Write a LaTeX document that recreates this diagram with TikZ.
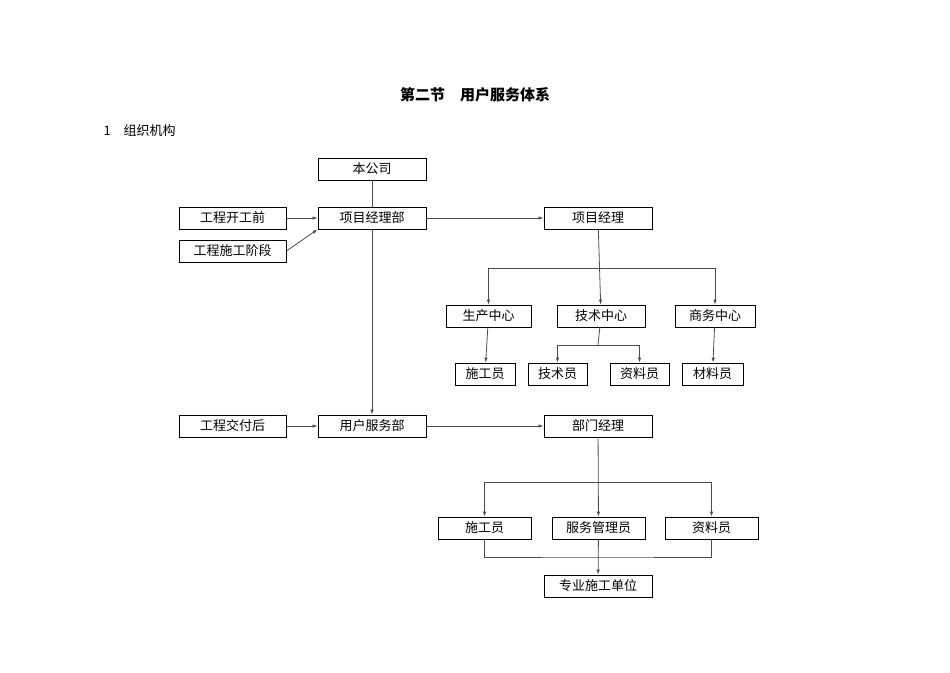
\documentclass[tikz,border=0pt]{standalone}
\usepackage{fontspec}
\setmainfont{Noto Sans CJK SC}
\usetikzlibrary{arrows.meta}
\begin{document}
\begin{tikzpicture}[x=1pt,y=-1pt,
  bx/.style={draw,thick,inner sep=0pt,font=\fontsize{13}{13}\selectfont},
  ln/.style={draw=black!70,thick},
  ar/.style={ln,-{Latex[length=5pt,width=3.5pt]}}]
\useasboundingbox (0,0) rectangle (950,672);
\newcommand{\bx}[6]{\node[bx,minimum width=#4-#2,minimum height=#5-#3] (#1) at ({(#2+#4)/2},{(#3+#5)/2}) {#6};}
\node[font=\fontsize{15}{15}\selectfont\bfseries] (title) at (475,95) {第二节\quad 用户服务体系};
\node[anchor=west,font=\fontsize{13}{13}\selectfont] (sub) at (100,131) {1\quad 组织机构};
\bx{gs}{318}{158}{426}{180}{本公司}
\bx{kg}{179}{207}{286}{229}{工程开工前}
\bx{xb}{318}{207}{426}{229}{项目经理部}
\bx{sg}{179}{240}{286}{262}{工程施工阶段}
\bx{xj}{544}{207}{652}{229}{项目经理}
\bx{sc}{446}{305}{531}{327}{生产中心}
\bx{js}{557}{305}{645}{327}{技术中心}
\bx{sw}{675}{305}{755}{327}{商务中心}
\bx{sy}{455}{363}{515}{385}{施工员}
\bx{jy}{528}{363}{587}{385}{技术员}
\bx{zy}{610}{363}{669}{385}{资料员}
\bx{cy}{682}{363}{743}{385}{材料员}
\bx{jf}{179}{415}{286}{437}{工程交付后}
\bx{yf}{318}{415}{426}{437}{用户服务部}
\bx{bj}{544}{415}{652}{437}{部门经理}
\bx{sy2}{438}{517}{531}{539}{施工员}
\bx{fw}{552}{517}{645}{539}{服务管理员}
\bx{zy2}{665}{517}{758}{539}{资料员}
\bx{zd}{544}{575}{652}{597}{专业施工单位}
\coordinate (b1) at (598,268);
\coordinate (b2) at (598,345);
\coordinate (b3) at (598,482);
\coordinate (b4) at (598,557);
\draw[ln] (gs) -- (xb);
\draw[ar] (kg) -- (xb);
\draw[ar] (sg.east) -- (xb.south west);
\draw[ar] (xb) -- (xj);
\draw[ar] (xb) -- (yf);
\draw[ar] (jf) -- (yf);
\draw[ar] (yf) -- (bj);
\draw[ar] (xj) -- (js);
\draw[ar] (b1) -| (sc);
\draw[ar] (b1) -| (sw);
\draw[ar] (sc) -- (sy);
\draw[ar] (sw) -- (cy);
\draw[ln] (js) -- (b2);
\draw[ar] (b2) -| (jy);
\draw[ar] (b2) -| (zy);
\draw[ar] (bj) -- (fw);
\draw[ar] (b3) -| (sy2);
\draw[ar] (b3) -| (zy2);
\draw[ln] (sy2) |- (b4) -| (zy2);
\draw[ar] (fw) -- (zd);
\end{tikzpicture}
\end{document}
